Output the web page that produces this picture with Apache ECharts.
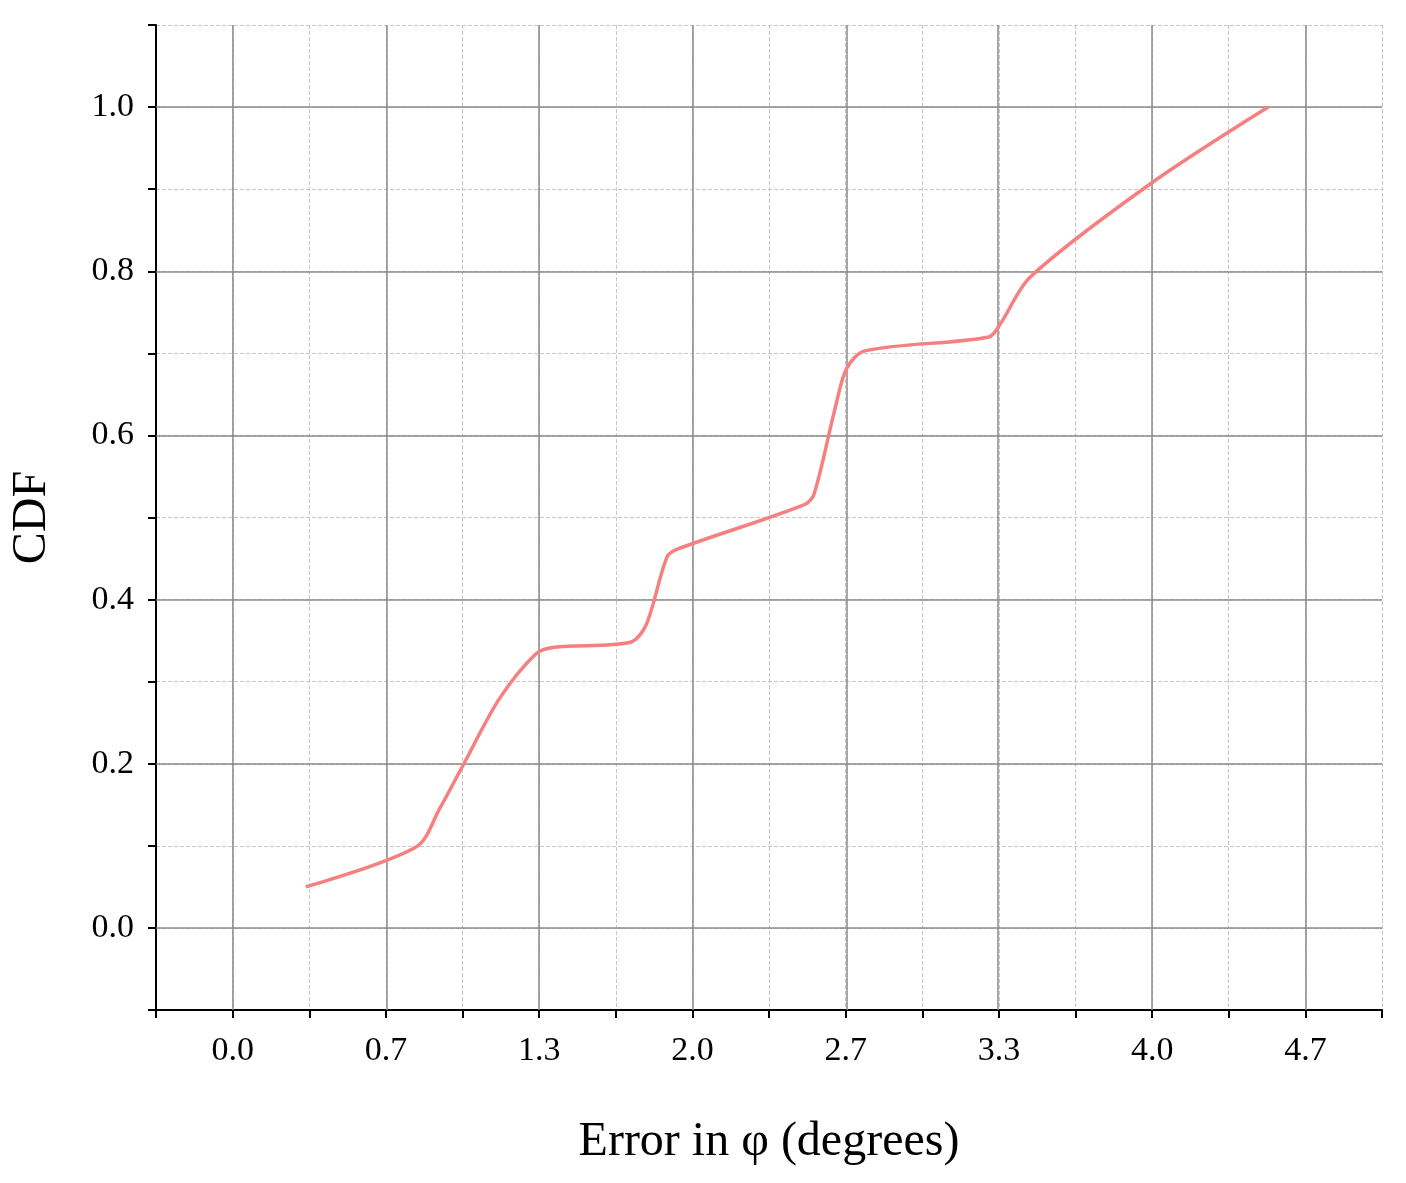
<!DOCTYPE html>
<html>
<head>
<meta charset="utf-8">
<script src="https://cdn.jsdelivr.net/npm/echarts@6/dist/echarts.min.js"></script>
<style>html,body{margin:0;padding:0;background:#fff}#chart{width:1406px;height:1183px}</style>
</head>
<body>
<div id="chart"></div>
<script>
// curve
var errX = [0.318, 0.80, 0.90, 1.006, 1.16, 1.32, 1.40, 1.73, 1.80, 1.89, 1.94, 2.49, 2.53, 2.62, 2.67, 2.75, 3.29, 3.34, 3.47, 3.99, 4.505]
var cdfY = [0.05, 0.099, 0.145, 0.2, 0.279, 0.334, 0.342, 0.348, 0.37, 0.452, 0.462, 0.516, 0.529, 0.632, 0.681, 0.703, 0.72, 0.736, 0.793, 0.906, 1.0]
var xMajor = [0, 2 / 3, 4 / 3, 2, 8 / 3, 10 / 3, 4, 14 / 3]
var yMajor = [0, 0.2, 0.4, 0.6, 0.8, 1.0]

var pts = []
for (var i = 0; i < errX.length; i++) pts.push([errX[i], cdfY[i]])

var grid_lines = []
xMajor.forEach(function (v) { grid_lines.push({ xAxis: v }) })
yMajor.forEach(function (v) { grid_lines.push({ yAxis: v }) })

var font = 'Liberation Serif'
var myChart = echarts.init(document.getElementById('chart'))
var option = {
  animation: false,
  grid: { left: 155, right: 24, top: 25, bottom: 173 },
  xAxis: {
    type: 'value', min: -1 / 3, max: 5, interval: 1 / 3,
    name: 'Error in φ (degrees)', nameLocation: 'middle', nameGap: 108,
    nameTextStyle: { fontFamily: font, fontSize: 48, color: '#000' },
    axisLine: { show: true, onZero: false, lineStyle: { color: '#000', width: 2 } },
    axisTick: { show: true, inside: false, length: 8, lineStyle: { color: '#000', width: 2 } },
    axisLabel: {
      fontFamily: font, fontSize: 34, color: '#000', margin: 24, showMinLabel: true, showMaxLabel: true,
      formatter: function (v) {
        var k = Math.round(v * 3)
        return (k >= 0 && k % 2 === 0) ? (k / 3).toFixed(1) : ''
      }
    },
    splitLine: { show: true, lineStyle: { color: '#c8c8c8', type: 'dashed', width: 1 } }
  },
  yAxis: {
    type: 'value', min: -0.1, max: 1.1, interval: 0.1,
    name: 'CDF', nameLocation: 'middle', nameGap: 100,
    nameTextStyle: { fontFamily: font, fontSize: 48, color: '#000' },
    axisLine: { show: true, onZero: false, lineStyle: { color: '#000', width: 2 } },
    axisTick: { show: true, inside: false, length: 8, lineStyle: { color: '#000', width: 2 } },
    axisLabel: {
      fontFamily: font, fontSize: 34, color: '#000', margin: 22,
      formatter: function (v) {
        var k = Math.round(v * 10)
        return (k >= 0 && k <= 10 && k % 2 === 0) ? (k / 10).toFixed(1) : ''
      }
    },
    splitLine: { show: true, lineStyle: { color: '#c8c8c8', type: 'dashed', width: 1 } }
  },
  series: [{
    type: 'line', data: pts, smooth: 0.3, showSymbol: false,
    lineStyle: { color: '#f77f7f', width: 3.5 },
    markLine: {
      silent: true, symbol: 'none', label: { show: false },
      lineStyle: { color: '#8a8a8a', type: 'solid', width: 1.5 },
      data: grid_lines
    },
    z: 5
  }]
}
myChart.setOption(option, true)
</script>
</body>
</html>
